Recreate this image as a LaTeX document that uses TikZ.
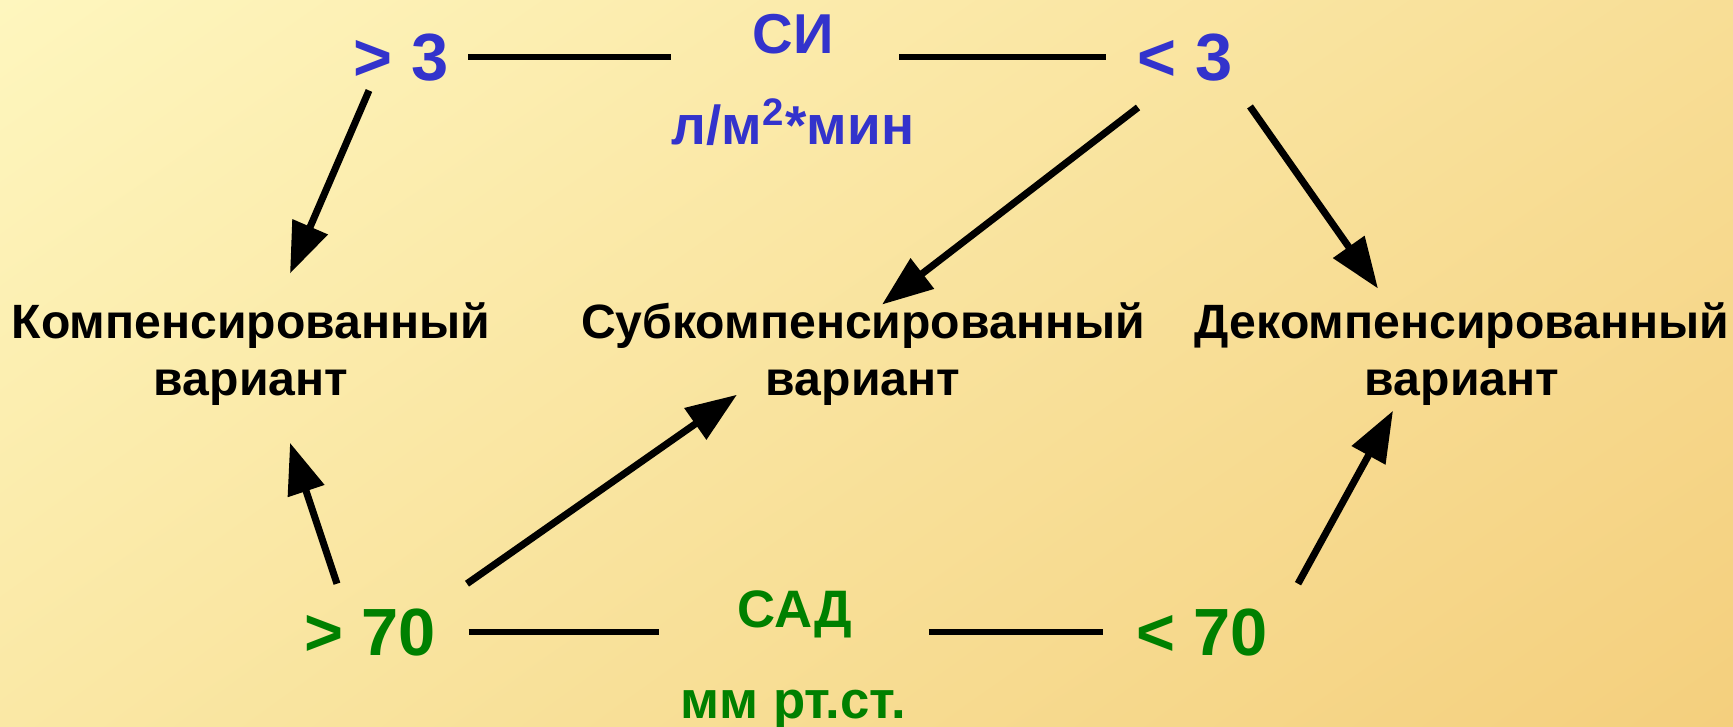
\documentclass[tikz,border=0pt]{standalone}
\usepackage{fontspec}
\setmainfont{Liberation Sans}
\usetikzlibrary{arrows.meta,shadings}
\definecolor{siblue}{RGB}{51,51,204}
\definecolor{sadgreen}{RGB}{0,128,0}
\definecolor{bgul}{RGB}{254,246,190}
\definecolor{bgur}{RGB}{248,222,150}
\definecolor{bgll}{RGB}{250,232,165}
\definecolor{bglr}{RGB}{244,207,125}
\tikzset{
  numtext/.style={
    inner sep = 0pt,
    anchor = base,
    font=\bfseries\fontsize{19}{22}\selectfont
  },
  unittext/.style={
    inner sep = 0pt,
    anchor = base,
    font=\bfseries\fontsize{15.6}{19}\selectfont
  },
  varianttext/.style={
    inner sep = 0pt,
    anchor = base,
    align = center,
    font=\bfseries\fontsize{13.7}{16.2}\selectfont
  },
  connline/.style={
    line width=1.7pt
  },
  arr/.style={
    line width=2pt,
    -{Triangle[length=14.5pt,width=10.5pt]}
  }
}
\begin{document}
\begin{tikzpicture}
  \shade[upper left=bgul,upper right=bgur,lower left=bgll,lower right=bglr] (0,0) rectangle (17.33,-7.26);
  \useasboundingbox (0,0) rectangle (17.33,-7.26);
  % SI row
  \node[numtext,siblue] (hi3) at (4.01,-0.80) {> 3};
  \node[numtext,siblue] (lo3) at (11.85,-0.80) {< 3};
  \node[unittext,siblue,font=\bfseries\fontsize{16}{19}\selectfont] (si) at (7.93,-0.53) {СИ};
  \node[unittext,siblue] (siunit) at (7.93,-1.44) {л/м\textsuperscript{2}*мин};
  % SAD row
  \node[numtext,sadgreen] (hi70) at (3.70,-6.55) {> 70};
  \node[numtext,sadgreen] (lo70) at (12.02,-6.55) {< 70};
  \node[unittext,sadgreen,font=\bfseries\fontsize{15}{18}\selectfont] (sad) at (7.95,-6.27) {САД};
  \node[unittext,sadgreen,font=\bfseries\fontsize{15}{18}\selectfont] (sadunit) at (7.93,-7.18) {мм рт.ст.};
  % variants (base = second line)
  \foreach \x/\n/\t in {2.51/komp/Компенсированный,8.63/sub/Субкомпенсированный,14.62/dekomp/Декомпенсированный}{
    \node[varianttext] (\n) at (\x,-3.95) {\t\\вариант};
  }
  \draw[connline] ([xshift=1.9mm]hi3.east) -- ([xshift=-8.1mm]hi3.east -| si.west);
  \draw[connline] ([xshift=6.5mm]si.east |- lo3.west) -- ([xshift=-3.1mm]lo3.west);
  \draw[connline] ([xshift=3.2mm]hi70.east) -- ([xshift=-7.8mm]hi70.east -| sad.west);
  \draw[connline] ([xshift=7.6mm]sad.east |- lo70.west) -- ([xshift=-3.2mm]lo70.west);
  \draw[arr] ([shift={(-0.32,-0.09)}]hi3.south) -- ([shift={(0.39,0.28)}]komp.north);
  \draw[arr] ([shift={(-0.47,-0.26)}]lo3.south) -- ([shift={(0.19,-0.03)}]sub.north);
  \draw[arr] ([shift={(0.65,-0.25)}]lo3.south) -- ([shift={(-0.84,0.13)}]dekomp.north);
  \draw[arr] ([shift={(-0.33,0.24)}]hi70.north) -- ([shift={(0.39,-0.37)}]komp.south);
  \draw[arr] ([shift={(0.97,0.24)}]hi70.north) -- ([shift={(-1.26,0.11)}]sub.south);
  \draw[arr] ([shift={(0.96,0.24)}]lo70.north) -- ([shift={(-0.69,-0.05)}]dekomp.south);
\end{tikzpicture}
\end{document}
